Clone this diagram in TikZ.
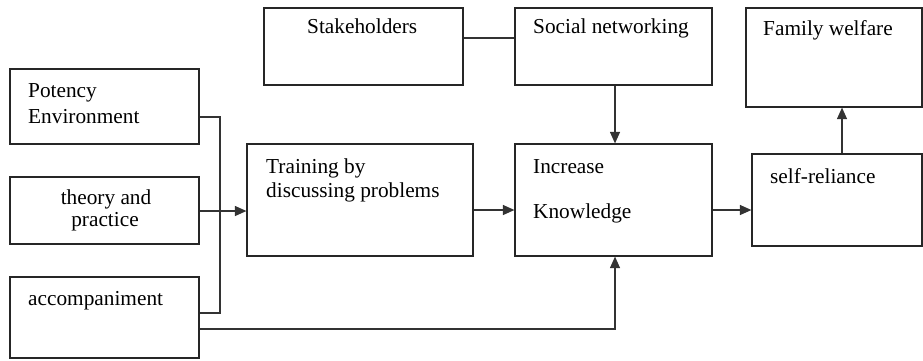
\documentclass[tikz,border=0pt]{standalone}
\usepackage{fontspec}
\setmainfont{Liberation Serif}
\usetikzlibrary{arrows.meta}
\begin{document}
\begin{tikzpicture}[x=1pt,y=-1pt,
  box/.style={draw=black!85,line width=1.2pt,rectangle,inner sep=0pt,fill=white},
  txt/.style={anchor=base west,inner sep=0pt,font=\rmfamily\fontsize{21.3}{25}\selectfont,text=black},
  ctxt/.style={anchor=base,inner sep=0pt,font=\rmfamily\fontsize{21.3}{25}\selectfont,text=black},
  link/.style={draw=black!80,line width=1.2pt},
  arr/.style={link,-{Triangle[length=11.5pt,width=10pt]}}]
\useasboundingbox (0,0) rectangle (923,360);
% boxes
\node[box,minimum width=189pt,minimum height=75pt] (pot) at (104.5,106.5) {};
\node[box,minimum width=189pt,minimum height=67pt] (theo) at (104.5,210.5) {};
\node[box,minimum width=189pt,minimum height=81pt] (acc) at (104.5,317.5) {};
\node[box,minimum width=199pt,minimum height=77pt] (stake) at (363.5,46.5) {};
\node[box,minimum width=197pt,minimum height=77pt] (soc) at (613.5,46.5) {};
\node[box,minimum width=226pt,minimum height=112pt] (train) at (360,200) {};
\node[box,minimum width=197pt,minimum height=112pt] (inc) at (613.5,200) {};
\node[box,minimum width=176pt,minimum height=99pt] (fam) at (834,57.5) {};
\node[box,minimum width=170pt,minimum height=92pt] (self) at (837,200) {};
% texts
\node[txt] (potA) at (28,97) {Potency};
\node[txt] (potB) at (28,123) {Environment};
\node[ctxt] (theoA) at (106,204) {theory and};
\node[ctxt] (theoB) at (105,226) {practice};
\node[txt] (accA) at (28,305) {accompaniment};
\node[txt] (stakeA) at (307,33) {Stakeholders};
\node[txt] (socA) at (533,33) {Social networking};
\node[txt] (trainA) at (266,173) {Training by};
\node[txt] (trainB) at (266,197) {discussing problems};
\node[txt] (incA) at (533,173) {Increase};
\node[txt] (incB) at (533,218) {Knowledge};
\node[txt] (famA) at (763,35) {Family welfare};
\node[txt] (selfA) at (770,183) {self-reliance};
% connectors
\coordinate (j) at (220,211);
\draw[link] (pot.east |- 0,117) -| (j);
\draw[link] (acc.east |- 0,313) -| (j);
\draw[arr] (theo.east |- 0,211) -- (train.west |- 0,211);
\draw[link] (stake.east |- 0,38) -- (soc.west |- 0,38);
\draw[arr] (soc.south -| 615,0) -- (inc.north -| 615,0);
\draw[arr] (train.east |- 0,210) -- (inc.west |- 0,210);
\draw[arr] (inc.east |- 0,210) -- (self.west |- 0,210);
\draw[arr] (self.north -| 842,0) -- (fam.south -| 842,0);
\draw[arr] (acc.east |- 0,329) -| (inc.south -| 615,0);
\end{tikzpicture}
\end{document}
